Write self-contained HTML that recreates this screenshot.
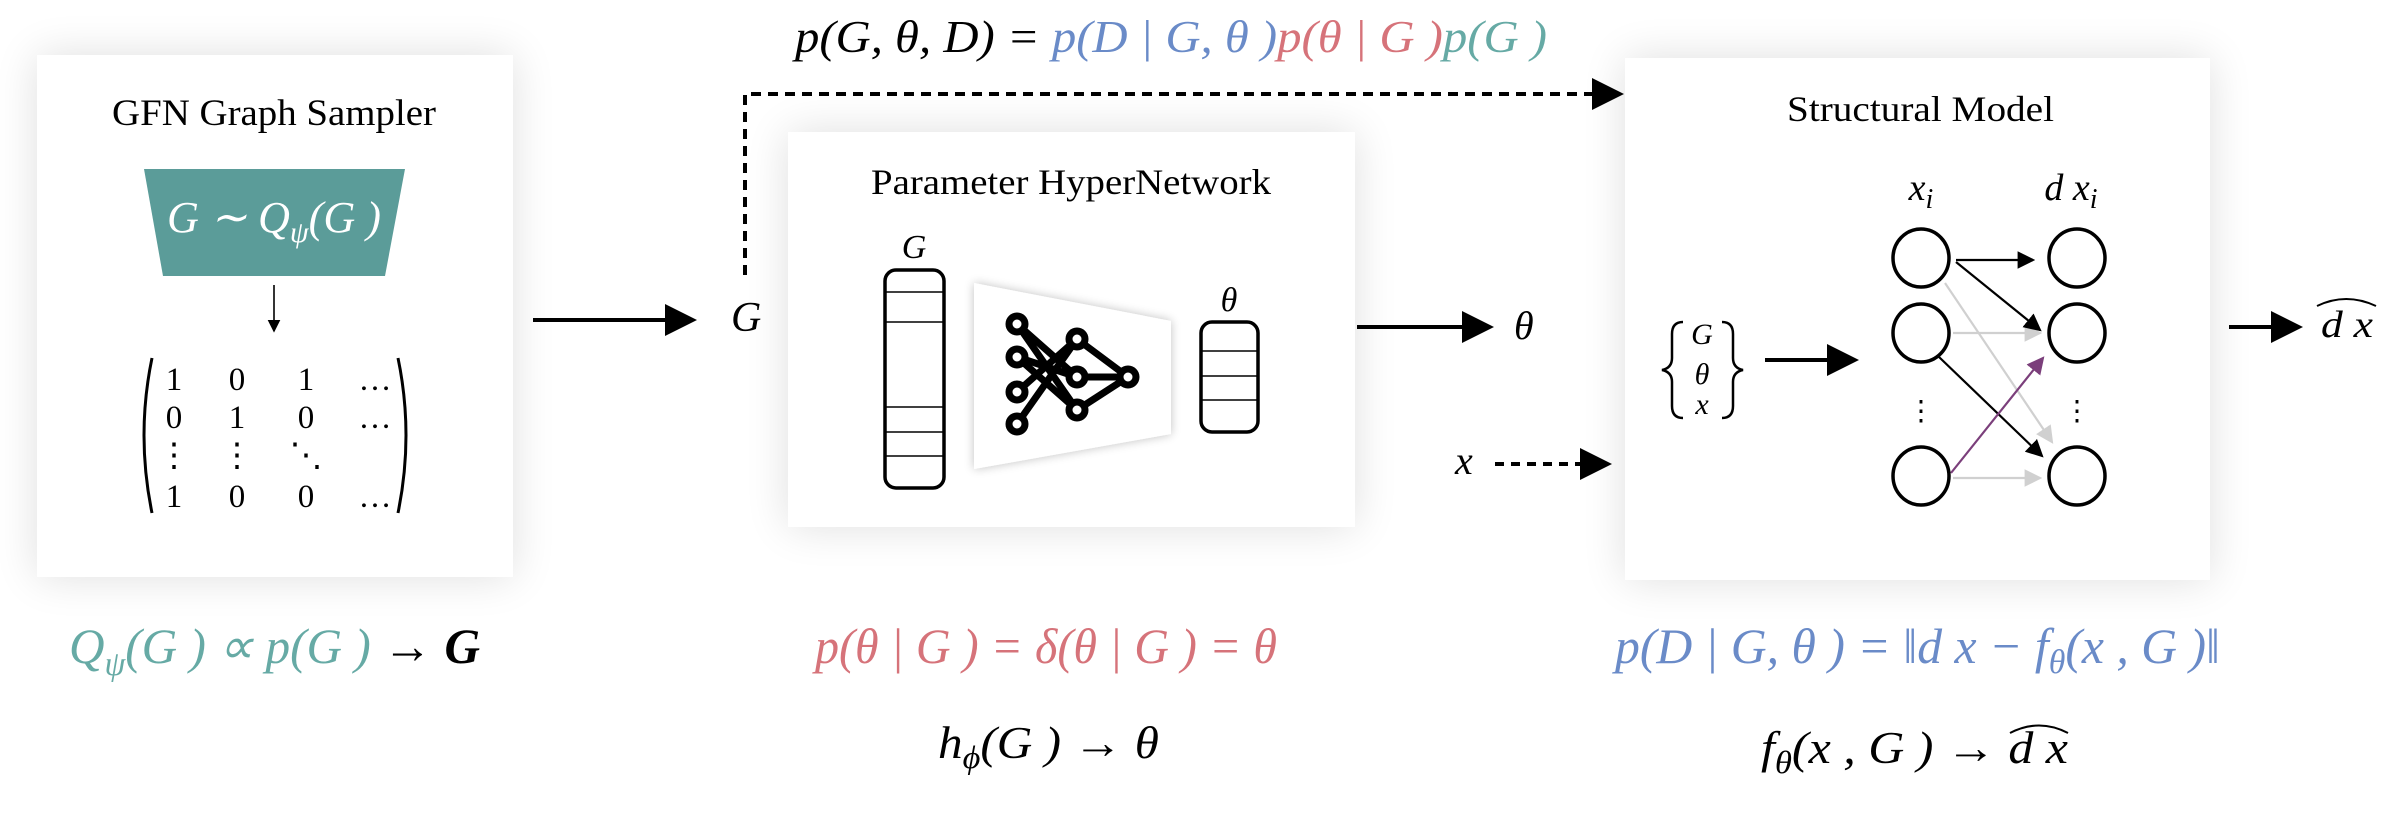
<!DOCTYPE html>
<html><head><meta charset="utf-8"><style>
html,body{margin:0;padding:0;background:#fff;}
svg{display:block;}
text{font-family:"Liberation Serif",serif;}
.m{font-style:italic;}
</style></head><body>
<svg width="2387" height="815" viewBox="0 0 2387 815" xmlns="http://www.w3.org/2000/svg">
<defs>
<filter id="sh" x="-20%" y="-20%" width="140%" height="140%">
<feGaussianBlur in="SourceAlpha" stdDeviation="22"/>
<feComponentTransfer><feFuncA type="linear" slope="0.13"/></feComponentTransfer>
<feMerge><feMergeNode/><feMergeNode in="SourceGraphic"/></feMerge>
</filter>
<filter id="sh2" x="-20%" y="-20%" width="140%" height="140%">
<feGaussianBlur in="SourceAlpha" stdDeviation="5"/>
<feComponentTransfer><feFuncA type="linear" slope="0.25"/></feComponentTransfer>
<feMerge><feMergeNode/><feMergeNode in="SourceGraphic"/></feMerge>
</filter>
<marker id="ah" markerWidth="8" markerHeight="8" refX="7" refY="4" orient="auto" markerUnits="strokeWidth"><path d="M0,0 L8,4 L0,8 z" fill="#000"/></marker>
<marker id="ahg" markerWidth="8" markerHeight="8" refX="7" refY="4" orient="auto" markerUnits="strokeWidth"><path d="M0,0 L8,4 L0,8 z" fill="#d0d0d0"/></marker>
<marker id="ahp" markerWidth="8" markerHeight="8" refX="7" refY="4" orient="auto" markerUnits="strokeWidth"><path d="M0,0 L8,4 L0,8 z" fill="#7b3f7b"/></marker>
</defs>

<rect x="37" y="55" width="476" height="522" fill="#fff" filter="url(#sh)"/>
<rect x="788" y="132" width="567" height="395" fill="#fff" filter="url(#sh)"/>
<rect x="1625" y="58" width="585" height="522" fill="#fff" filter="url(#sh)"/>

<text class="m" x="795" y="52" font-size="46" textLength="752" lengthAdjust="spacingAndGlyphs"><tspan fill="#000">p(G, θ, D) = </tspan><tspan fill="#6a8bc8">p(D | G, θ )</tspan><tspan fill="#d6737a">p(θ | G )</tspan><tspan fill="#66aaa5">p(G )</tspan></text>

<text x="112" y="125" font-size="37" textLength="324" lengthAdjust="spacingAndGlyphs">GFN Graph Sampler</text>
<polygon points="144,169 405,169 385,276 163,276" fill="#5b9c99"/>
<text class="m" x="167" y="232" font-size="44" fill="#fff" textLength="214" lengthAdjust="spacingAndGlyphs">G ∼ Q<tspan font-size="30" dy="10">ψ</tspan><tspan dy="-10">(G )</tspan></text>
<line x1="274" y1="285" x2="274" y2="331" stroke="#000" stroke-width="1.6" marker-end="url(#ah)"/>
<g font-size="33" text-anchor="middle">
<path d="M152,358 Q136,435 152,513" fill="none" stroke="#000" stroke-width="3"/>
<path d="M398,358 Q414,435 398,513" fill="none" stroke="#000" stroke-width="3"/>
<text x="174" y="390">1</text><text x="237" y="390">0</text><text x="306" y="390">1</text><text x="375" y="390">…</text>
<text x="174" y="428">0</text><text x="237" y="428">1</text><text x="306" y="428">0</text><text x="375" y="428">…</text>
<text x="174" y="466">⋮</text><text x="237" y="466">⋮</text><text x="306" y="466">⋱</text>
<text x="174" y="507">1</text><text x="237" y="507">0</text><text x="306" y="507">0</text><text x="375" y="507">…</text>
</g>
<text class="m" x="69" y="663" font-size="50" textLength="411" lengthAdjust="spacingAndGlyphs"><tspan fill="#66aaa5">Q<tspan font-size="34" dy="12">ψ</tspan><tspan dy="-12">(G ) ∝ p(G )</tspan></tspan><tspan fill="#000" font-style="normal"> → </tspan><tspan fill="#000" font-weight="bold">G</tspan></text>

<line x1="533" y1="320" x2="693" y2="320" stroke="#000" stroke-width="4" marker-end="url(#ah)"/>
<text class="m" x="731" y="331" font-size="42">G</text>
<path d="M745,275 L745,94 L1620,94" fill="none" stroke="#000" stroke-width="4" stroke-dasharray="10,7" marker-end="url(#ah)"/>

<text x="871" y="194" font-size="36" textLength="400" lengthAdjust="spacingAndGlyphs">Parameter HyperNetwork</text>
<text class="m" x="914" y="258" font-size="34" text-anchor="middle">G</text>
<g stroke="#000">
<rect x="885" y="270" width="59" height="218" rx="11" fill="#fff" stroke-width="3.5"/>
<line x1="885" y1="292" x2="944" y2="292" stroke-width="1.5"/><line x1="885" y1="322" x2="944" y2="322" stroke-width="1.5"/>
<line x1="885" y1="407" x2="944" y2="407" stroke-width="1.5"/><line x1="885" y1="432" x2="944" y2="432" stroke-width="1.5"/>
<line x1="885" y1="456" x2="944" y2="456" stroke-width="1.5"/>
</g>
<polygon points="974,283 1171,321 1171,434 974,469" fill="#fff" filter="url(#sh2)"/>
<g stroke="#000" stroke-width="7" fill="#fff" stroke-linecap="round">
<line x1="1017" y1="324" x2="1077" y2="410"/><line x1="1017" y1="357" x2="1077" y2="377"/>
<line x1="1017" y1="357" x2="1077" y2="410"/><line x1="1017" y1="392" x2="1077" y2="339"/>
<line x1="1017" y1="424" x2="1077" y2="339"/><line x1="1017" y1="324" x2="1077" y2="377"/>
<line x1="1077" y1="339" x2="1128" y2="377"/><line x1="1077" y1="377" x2="1128" y2="377"/><line x1="1077" y1="410" x2="1128" y2="377"/>
<circle cx="1017" cy="324" r="8"/><circle cx="1017" cy="357" r="8"/><circle cx="1017" cy="392" r="8"/><circle cx="1017" cy="424" r="8"/>
<circle cx="1077" cy="339" r="8"/><circle cx="1077" cy="377" r="8"/><circle cx="1077" cy="410" r="8"/>
<circle cx="1128" cy="377" r="8"/>
</g>
<text class="m" x="1229" y="311" font-size="34" text-anchor="middle">θ</text>
<g stroke="#000">
<rect x="1201" y="322" width="57" height="110" rx="11" fill="#fff" stroke-width="3.5"/>
<line x1="1201" y1="351" x2="1258" y2="351" stroke-width="1.5"/><line x1="1201" y1="376" x2="1258" y2="376" stroke-width="1.5"/><line x1="1201" y1="400" x2="1258" y2="400" stroke-width="1.5"/>
</g>
<line x1="1357" y1="327" x2="1490" y2="327" stroke="#000" stroke-width="4" marker-end="url(#ah)"/>
<text class="m" x="1514" y="339" font-size="40">θ</text>
<text class="m" x="1455" y="474" font-size="40">x</text>
<line x1="1495" y1="464" x2="1608" y2="464" stroke="#000" stroke-width="4" stroke-dasharray="9,7" marker-end="url(#ah)"/>
<text class="m" x="815" y="663" font-size="50" fill="#d6737a" textLength="462" lengthAdjust="spacingAndGlyphs">p(θ | G ) = δ(θ | G ) = θ</text>
<text class="m" x="938" y="758" font-size="46" textLength="221" lengthAdjust="spacingAndGlyphs">h<tspan font-size="32" dy="10">ϕ</tspan><tspan dy="-10">(G ) </tspan><tspan font-style="normal">→</tspan> θ</text>

<text x="1787" y="121" font-size="36" textLength="267" lengthAdjust="spacingAndGlyphs">Structural Model</text>
<g>
<path d="M1683,322 Q1672,322 1672,334 L1672,358 Q1672,368 1662,370 Q1672,372 1672,382 L1672,406 Q1672,418 1683,418" fill="none" stroke="#000" stroke-width="2.5"/>
<path d="M1722,322 Q1733,322 1733,334 L1733,358 Q1733,368 1743,370 Q1733,372 1733,382 L1733,406 Q1733,418 1722,418" fill="none" stroke="#000" stroke-width="2.5"/>
<text class="m" x="1702" y="344" font-size="30" text-anchor="middle">G</text>
<text class="m" x="1702" y="384" font-size="30" text-anchor="middle">θ</text>
<text class="m" x="1702" y="414" font-size="30" text-anchor="middle">x</text>
</g>
<line x1="1765" y1="360" x2="1855" y2="360" stroke="#000" stroke-width="4" marker-end="url(#ah)"/>
<text class="m" x="1921" y="200" font-size="38" text-anchor="middle">x<tspan font-size="28" dy="8">i</tspan></text>
<text class="m" x="2071" y="200" font-size="38" text-anchor="middle">d x<tspan font-size="28" dy="8">i</tspan></text>
<g stroke-width="2.2" fill="none">
<line x1="1945" y1="283" x2="2052" y2="442" stroke="#d0d0d0" marker-end="url(#ahg)"/>
<line x1="1953" y1="333" x2="2040" y2="333" stroke="#d0d0d0" marker-end="url(#ahg)"/>
<line x1="1953" y1="478" x2="2040" y2="478" stroke="#d0d0d0" marker-end="url(#ahg)"/>
<line x1="1956" y1="260" x2="2033" y2="260" stroke="#000" marker-end="url(#ah)"/>
<line x1="1956" y1="262" x2="2040" y2="330" stroke="#000" marker-end="url(#ah)"/>
<line x1="1939" y1="357" x2="2042" y2="456" stroke="#000" marker-end="url(#ah)"/>
<line x1="1951" y1="473" x2="2043" y2="358" stroke="#7b3f7b" marker-end="url(#ahp)"/>
</g>
<g fill="none" stroke="#000" stroke-width="3.5">
<ellipse cx="1921" cy="258" rx="28" ry="29"/><ellipse cx="1921" cy="333" rx="28" ry="29"/><ellipse cx="1921" cy="476" rx="28" ry="29"/>
<ellipse cx="2077" cy="258" rx="28" ry="29"/><ellipse cx="2077" cy="333" rx="28" ry="29"/><ellipse cx="2077" cy="476" rx="28" ry="29"/>
</g>
<text x="1921" y="420" font-size="28" text-anchor="middle">⋮</text>
<text x="2077" y="420" font-size="28" text-anchor="middle">⋮</text>
<line x1="2229" y1="327" x2="2299" y2="327" stroke="#000" stroke-width="4" marker-end="url(#ah)"/>
<text class="m" x="2321" y="337" font-size="38" textLength="52" lengthAdjust="spacingAndGlyphs">d x</text>
<path d="M2317,306 Q2346,292 2376,306" fill="none" stroke="#000" stroke-width="2"/>
<text class="m" x="1615" y="663" font-size="50" fill="#6a8bc8" textLength="605" lengthAdjust="spacingAndGlyphs">p(D | G, θ ) = ‖d x − f<tspan font-size="34" dy="10">θ</tspan><tspan dy="-10">(x , G )‖</tspan></text>
<text class="m" x="1761" y="763" font-size="46" textLength="307" lengthAdjust="spacingAndGlyphs">f<tspan font-size="32" dy="10">θ</tspan><tspan dy="-10">(x , G ) </tspan><tspan font-style="normal">→</tspan>  d x</text>
<path d="M2010,733 Q2039,718 2068,733" fill="none" stroke="#000" stroke-width="2"/>
</svg>
</body></html>
